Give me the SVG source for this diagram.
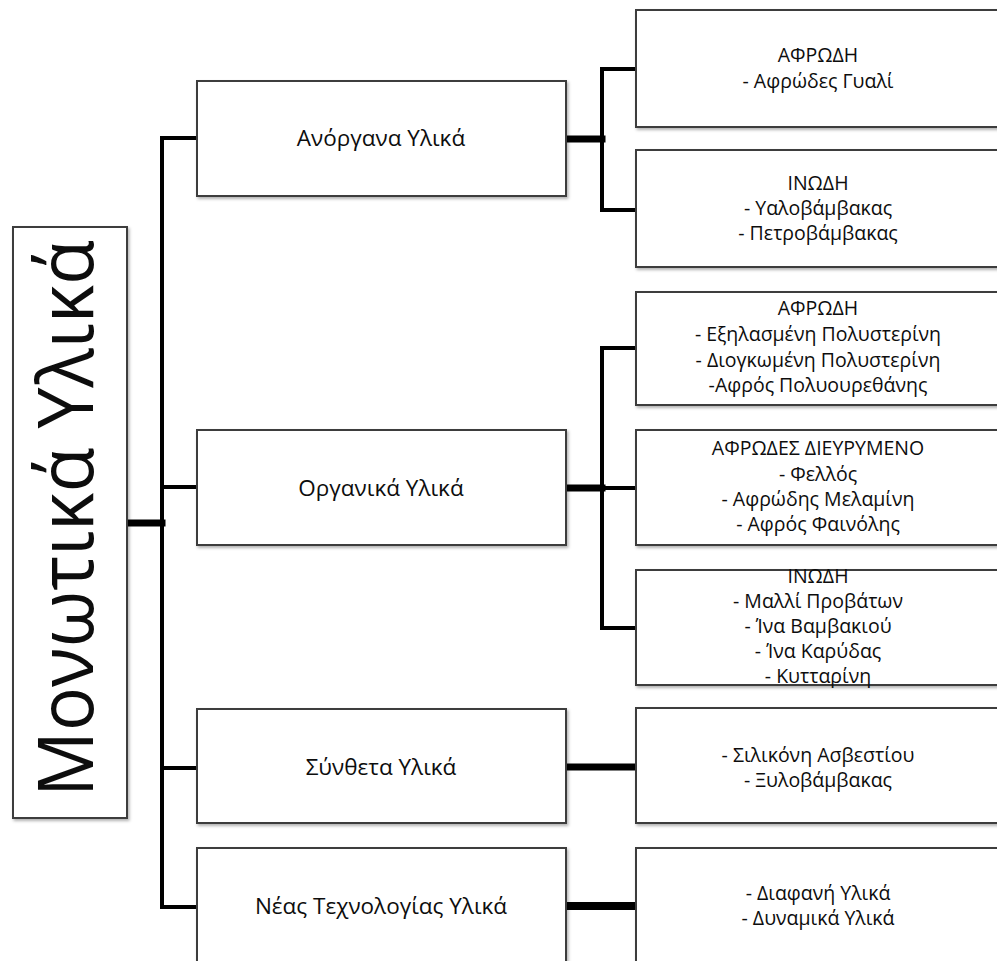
<svg xmlns="http://www.w3.org/2000/svg" width="997" height="961" viewBox="0 0 997 961">
<defs>
<filter id="sh" x="-5%" y="-5%" width="115%" height="120%">
<feDropShadow dx="1.5" dy="2" stdDeviation="1.5" flood-color="#000" flood-opacity="0.3"/>
</filter>
</defs>
<style>
.box{fill:#fff;stroke:#3c3c3c;stroke-width:2;filter:url(#sh)}
.t{font-family:"Open Sans","Noto Sans","DejaVu Sans",sans-serif;fill:#0d0d0d;text-anchor:middle}
.l1{font-size:22.5px}
.l2{font-size:19.5px}
.c{stroke:#000;fill:none;stroke-linecap:square}
.thin{stroke-width:4}
.thick{stroke-width:7}
</style>
<rect width="997" height="961" fill="#fff"/>
<g id="connectors">
<line class="c thick" x1="127" y1="523" x2="162" y2="523"/>
<polyline class="c thin" points="197,138 162,138 162,907 197,907"/>
<line class="c thin" x1="162" y1="487" x2="197" y2="487"/>
<line class="c thin" x1="162" y1="768" x2="197" y2="768"/>
<line class="c thick" x1="566" y1="139" x2="602" y2="139"/>
<polyline class="c thin" points="636,69 602,69 602,210 636,210"/>
<line class="c thick" x1="566" y1="488" x2="602" y2="488"/>
<polyline class="c thin" points="636,348 602,348 602,628 636,628"/>
<line class="c thin" x1="602" y1="488" x2="636" y2="488"/>
<line class="c thick" x1="566" y1="767" x2="636" y2="767"/>
<line class="c thick" x1="566" y1="906" x2="636" y2="906" style="stroke-width:8"/>
</g>
<g id="root">
<rect class="box" x="13" y="227" width="114" height="591"/>
<text class="t" transform="translate(93,797) rotate(-90)" style="text-anchor:start;font-size:76px" textLength="557" lengthAdjust="spacingAndGlyphs">Μονωτικά Υλικά</text>
</g>
<g id="anorgana">
<rect class="box" x="197" y="81" width="369" height="115"/>
<text class="t l1" x="381" y="146">Ανόργανα Υλικά</text>
</g>
<g id="organika">
<rect class="box" x="197" y="430" width="369" height="115"/>
<text class="t l1" x="381" y="496">Οργανικά Υλικά</text>
</g>
<g id="syntheta">
<rect class="box" x="197" y="709" width="369" height="114"/>
<text class="t l1" x="381" y="775">Σύνθετα Υλικά</text>
</g>
<g id="neas">
<rect class="box" x="197" y="848" width="369" height="130"/>
<text class="t l1" x="381" y="914">Νέας Τεχνολογίας Υλικά</text>
</g>
<g id="an-afrodi">
<rect class="box" x="636" y="10" width="380" height="117"/>
<text class="t l2" x="818" y="62">ΑΦΡΩΔΗ</text>
<text class="t l2" x="818" y="88">- Αφρώδες Γυαλί</text>
</g>
<g id="an-inodi">
<rect class="box" x="636" y="150" width="380" height="117"/>
<text class="t l2" x="818" y="190">ΙΝΩΔΗ</text>
<text class="t l2" x="818" y="215">- Υαλοβάμβακας</text>
<text class="t l2" x="818" y="240">- Πετροβάμβακας</text>
</g>
<g id="org-afrodi">
<rect class="box" x="636" y="292" width="380" height="113"/>
<text class="t l2" x="818" y="315">ΑΦΡΩΔΗ</text>
<text class="t l2" x="818" y="341">- Εξηλασμένη Πολυστερίνη</text>
<text class="t l2" x="818" y="367">- Διογκωμένη Πολυστερίνη</text>
<text class="t l2" x="818" y="392">-Αφρός Πολυουρεθάνης</text>
</g>
<g id="org-dieurymeno">
<rect class="box" x="636" y="430" width="380" height="115"/>
<text class="t l2" x="818" y="455">ΑΦΡΩΔΕΣ ΔΙΕΥΡΥΜΕΝΟ</text>
<text class="t l2" x="818" y="481">- Φελλός</text>
<text class="t l2" x="818" y="506">- Αφρώδης Μελαμίνη</text>
<text class="t l2" x="818" y="531">- Αφρός Φαινόλης</text>
</g>
<g id="org-inodi">
<rect class="box" x="636" y="570" width="380" height="115"/>
<text class="t l2" x="818" y="583">ΙΝΩΔΗ</text>
<text class="t l2" x="818" y="608">- Μαλλί Προβάτων</text>
<text class="t l2" x="818" y="633">- Ίνα Βαμβακιού</text>
<text class="t l2" x="818" y="658">- Ίνα Καρύδας</text>
<text class="t l2" x="818" y="683">- Κυτταρίνη</text>
</g>
<g id="syn-sub">
<rect class="box" x="636" y="708" width="380" height="115"/>
<text class="t l2" x="818" y="762">- Σιλικόνη Ασβεστίου</text>
<text class="t l2" x="818" y="787">- Ξυλοβάμβακας</text>
</g>
<g id="neas-sub">
<rect class="box" x="636" y="848" width="380" height="130"/>
<text class="t l2" x="818" y="900">- Διαφανή Υλικά</text>
<text class="t l2" x="818" y="925">- Δυναμικά Υλικά</text>
</g>
</svg>
